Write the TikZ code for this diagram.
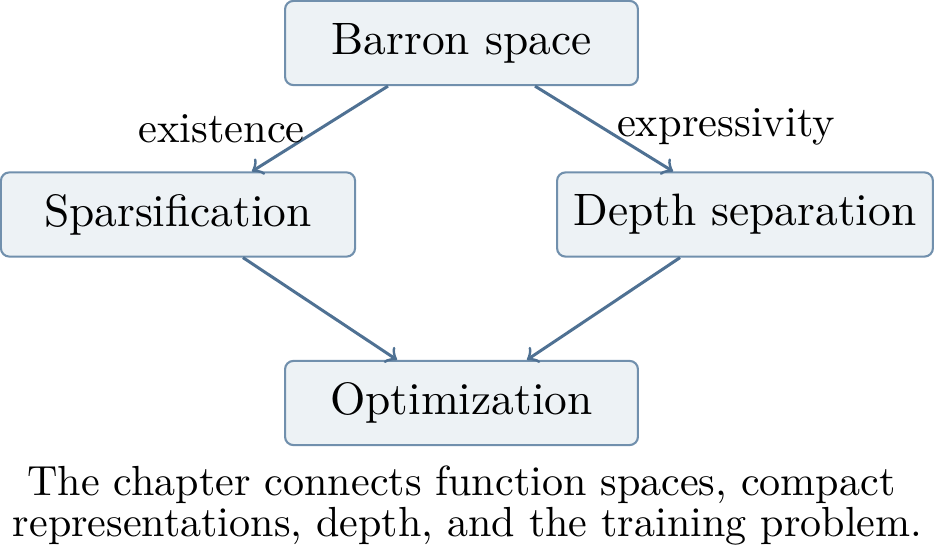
\documentclass[tikz,border=0pt]{standalone}
\usetikzlibrary{calc}
\definecolor{boxfill}{HTML}{EDF2F5}
\definecolor{boxline}{HTML}{7190AD}
\definecolor{flow}{HTML}{4F7193}
\begin{document}
\begin{tikzpicture}[x=0.24pt,y=-0.24pt,
  stage/.style={draw=boxline, fill=boxfill, line width=0.5pt, rounded corners=2pt,
    minimum height=20.2pt, inner sep=0pt, font=\fontsize{10.9}{13}\selectfont},
  link/.style={draw=flow, line width=0.72pt, ->},
  tag/.style={font=\fontsize{10.2}{12}\selectfont, inner sep=0pt, anchor=base}]
\useasboundingbox (0,0) rectangle (935,560);

% stages of the chapter
\node[stage, minimum width=84.7pt] (barron) at (461.5,43)  {Barron space};
\node[stage, minimum width=85pt]   (spars)  at (178,214.5)  {Sparsification};
\node[stage, minimum width=90.2pt] (depth)  at (745,214.5)  {Depth separation};
\node[stage, minimum width=84.7pt] (optim)  at (461.5,403) {Optimization};

% connections between the stages
\draw[link] ($(barron.south)+(-73.5,0)$) -- ($(spars.north)+(74,0)$);
\draw[link] ($(barron.south)+(73.5,0)$)  -- ($(depth.north)+(-72,0)$);
\draw[link] ($(spars.south)+(65,0)$)     -- ($(optim.north)+(-64.5,0)$);
\draw[link] ($(depth.south)+(-65,0)$)    -- ($(optim.north)+(65.5,0)$);

% edge labels
\node[tag] (lexist) at (221.5,143) {existence};
\node[tag] (lexpr)  at (726,137)   {expressivity};

% caption (base anchor sits on the last line)
\node[font=\fontsize{10.1}{8.4}\selectfont, align=center, inner sep=0pt, anchor=base]
  (caption) at (467.5,537)
  {The chapter connects function spaces, compact\hspace*{2.9pt}\\
   representations, depth, and the training problem.};
\end{tikzpicture}
\end{document}
